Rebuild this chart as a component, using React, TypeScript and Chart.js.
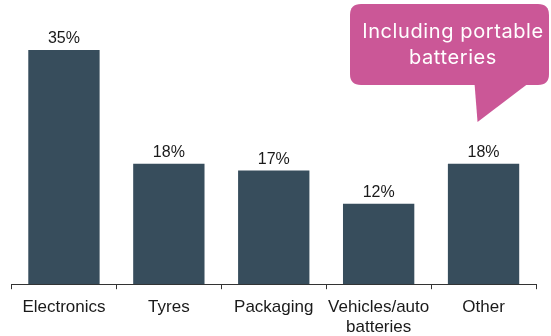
import React, { useEffect, useRef } from "react";
import { Chart, registerables } from "chart.js";

Chart.register(...registerables);

const categories: (string | string[])[] = ["Electronics", "Tyres", "Packaging", ["Vehicles/auto", "batteries"], "Other"];
const shares: number[] = [35, 18, 17, 12, 18];
const calloutLines: string[] = ["Including portable", "batteries"];

const BAR_COLOR = "#374D5C";
const CALLOUT_COLOR = "#CB5797";

const valueLabels = {
  id: "valueLabels",
  afterDatasetsDraw(chart: any) {
    const ctx = chart.ctx;
    const meta = chart.getDatasetMeta(0);
    ctx.save();
    ctx.font = "16px 'Liberation Sans', Arial, sans-serif";
    ctx.fillStyle = "#1a1a1a";
    ctx.textAlign = "center";
    ctx.textBaseline = "alphabetic";
    meta.data.forEach((bar: any, i: number) => {
      ctx.fillText(shares[i] + "%", bar.x, bar.y - 6.5);
    });
    ctx.restore();
  },
};

const callout = {
  id: "callout",
  afterDraw(chart: any) {
    const ctx = chart.ctx;
    const meta = chart.getDatasetMeta(0);
    const last = meta.data[meta.data.length - 1];
    const x0 = 350, y0 = 4, x1 = 549, y1 = 85, r = 11;
    ctx.save();
    ctx.fillStyle = CALLOUT_COLOR;
    ctx.beginPath();
    ctx.moveTo(x0 + r, y0);
    ctx.lineTo(x1 - r, y0);
    ctx.quadraticCurveTo(x1, y0, x1, y0 + r);
    ctx.lineTo(x1, y1 - r);
    ctx.quadraticCurveTo(x1, y1, x1 - r, y1);
    ctx.lineTo(x0 + r, y1);
    ctx.quadraticCurveTo(x0, y1, x0, y1 - r);
    ctx.lineTo(x0, y0 + r);
    ctx.quadraticCurveTo(x0, y0, x0 + r, y0);
    ctx.closePath();
    ctx.fill();
    // pointer toward the "Other" bar
    ctx.beginPath();
    ctx.moveTo(last.x - 9, y1 - 1);
    ctx.lineTo(last.x - 6, 122);
    ctx.lineTo(last.x + 44, y1 - 1);
    ctx.closePath();
    ctx.fill();
    ctx.fillStyle = "#ffffff";
    ctx.font = "20px Inter, 'Noto Sans', sans-serif";
    try { (ctx as any).letterSpacing = "0.6px"; } catch (e) {}
    ctx.textAlign = "center";
    ctx.textBaseline = "middle";
    const cx = 453;
    ctx.fillText(calloutLines[0], cx, 32);
    ctx.fillText(calloutLines[1], cx, 57.5);
    ctx.restore();
  },
};

export default function App() {
  const ref = useRef<HTMLCanvasElement | null>(null);
  useEffect(() => {
    if (!ref.current) return;
    const chart = new Chart(ref.current, {
      type: "bar",
      data: {
        labels: categories,
        datasets: [
          {
            data: shares,
            backgroundColor: BAR_COLOR,
            borderWidth: 0,
            barPercentage: 0.68,
            categoryPercentage: 1,
          },
        ],
      },
      options: {
        animation: false,
        responsive: false,
        maintainAspectRatio: false,
        layout: { padding: { left: 11.5, right: 15, top: 16.4, bottom: 1 } },
        plugins: { legend: { display: false }, tooltip: { enabled: false } },
        scales: {
          y: { display: false, min: 0, max: 40 },
          x: {
            offset: true,
            border: { display: true, color: "#333333", width: 1 },
            grid: {
              display: true,
              drawOnChartArea: false,
              drawTicks: true,
              tickLength: 5,
              color: "#333333",
              offset: true,
            },
            ticks: {
              color: "#1a1a1a",
              font: { family: "'Liberation Sans', Arial, sans-serif", size: 17, lineHeight: 1.2 },
              padding: 8,
              maxRotation: 0,
              autoSkip: false,
            },
          },
        },
      },
      plugins: [valueLabels, callout],
    });
    return () => chart.destroy();
  }, []);
  return (
    <div style={{ position: "fixed", left: 0, top: 0, width: 551, height: 336, overflow: "hidden", background: "#fff" }}>
      <canvas ref={ref} width={551} height={347} style={{ width: 551, height: 347, display: "block" }} />
    </div>
  );
}
